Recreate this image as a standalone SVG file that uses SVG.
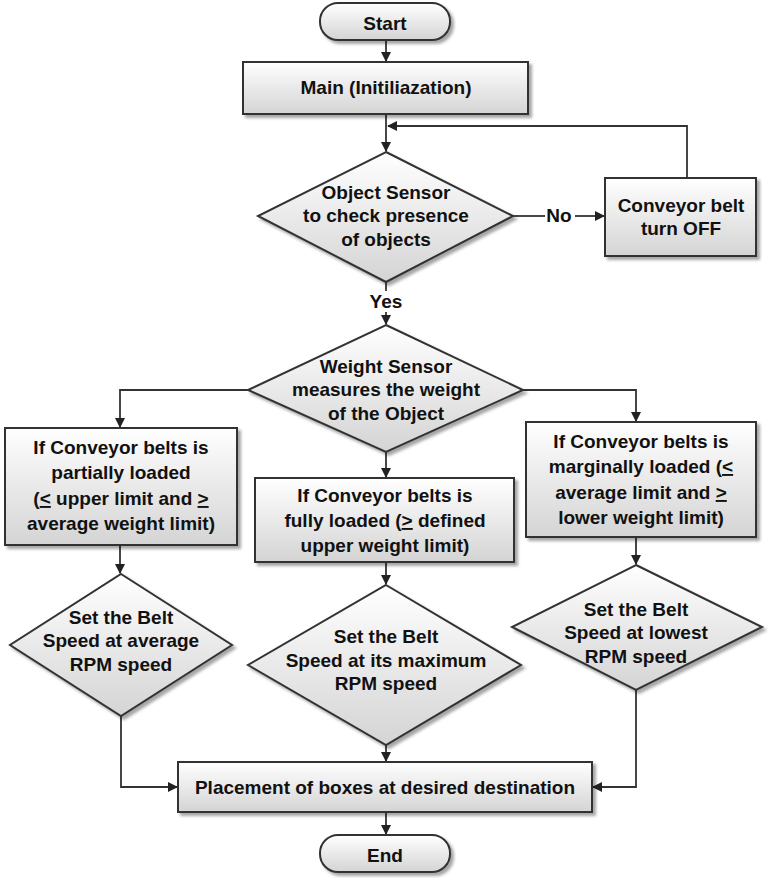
<svg xmlns="http://www.w3.org/2000/svg" width="777" height="878" viewBox="0 0 777 878">
<defs>
<linearGradient id="g" x1="0" y1="0" x2="0" y2="1"><stop offset="0" stop-color="#ffffff"/><stop offset="1" stop-color="#d4d4d4"/></linearGradient>
<filter id="sh" x="-10%" y="-10%" width="130%" height="130%"><feDropShadow dx="3" dy="3" stdDeviation="1.5" flood-color="#000" flood-opacity="0.35"/></filter>
<marker id="a" markerWidth="10" markerHeight="10" refX="9" refY="5" orient="auto" markerUnits="userSpaceOnUse"><path d="M0,0 L10,5 L0,10 z" fill="#222"/></marker>
<style>
.s{fill:url(#g);stroke:#333;stroke-width:2;filter:url(#sh)}
.t{font-family:"Liberation Sans",Arial,sans-serif;font-weight:bold;font-size:19px;fill:#111;text-anchor:middle}
.c{fill:none;stroke:#333;stroke-width:1.8;marker-end:url(#a)}
.l{fill:none;stroke:#333;stroke-width:1.8}
</style>
</defs>
<g id="connectors">
<path class="c" d="M386,40 V61"/>
<path class="c" d="M386,114 V151"/>
<path class="c" d="M687,178 V126 H388"/>
<path class="l" d="M513,216 H545"/>
<path class="c" d="M575,216 H604"/>
<path class="l" d="M386,282 V291"/>
<path class="c" d="M386,312 V324"/>
<path class="c" d="M248,390 H120 V427"/>
<path class="c" d="M523,390 H636 V421"/>
<path class="c" d="M386,452 V477"/>
<path class="c" d="M120,545 V573"/>
<path class="c" d="M386,562 V584"/>
<path class="c" d="M636,537 V564"/>
<path class="c" d="M121,716 V787 H177"/>
<path class="c" d="M636,690 V787 H593"/>
<path class="c" d="M386,745 V761"/>
<path class="c" d="M386,812 V834"/>
<text class="t" x="559" y="222">No</text>
<text class="t" x="386" y="308">Yes</text>
</g>
<g id="start"><rect class="s" x="320" y="3" width="130" height="37" rx="18"/><text class="t" x="385" y="30" font-size="23">Start</text></g>
<g id="main"><rect class="s" x="243" y="62" width="285" height="52"/><text class="t" x="386" y="94">Main (Initiliazation)</text></g>
<g id="d1"><polygon class="s" points="386,152 513,216 386,282 258,216"/><text class="t" x="386" y="199">Object Sensor</text><text class="t" x="386" y="222">to check presence</text><text class="t" x="386" y="246">of objects</text></g>
<g id="off"><rect class="s" x="605" y="178" width="151" height="78"/><text class="t" x="681" y="212">Conveyor belt</text><text class="t" x="681" y="235">turn OFF</text></g>
<g id="d2"><polygon class="s" points="386,325 523,390 386,452 248,390"/><text class="t" x="386" y="373">Weight Sensor</text><text class="t" x="386" y="396">measures the weight</text><text class="t" x="386" y="420">of the Object</text></g>
<g id="partial"><rect class="s" x="5" y="428" width="232" height="117"/><text class="t" x="121" y="454">If Conveyor belts is</text><text class="t" x="121" y="479">partially loaded</text><text class="t" x="121" y="505">(<tspan text-decoration="underline">&lt;</tspan> upper limit and <tspan text-decoration="underline">&gt;</tspan></text><text class="t" x="121" y="530">average weight limit)</text></g>
<g id="full"><rect class="s" x="255" y="478" width="259" height="84"/><text class="t" x="385" y="502">If Conveyor belts is</text><text class="t" x="385" y="527">fully loaded (<tspan text-decoration="underline">&gt;</tspan> defined</text><text class="t" x="385" y="552">upper weight limit)</text></g>
<g id="marginal"><rect class="s" x="526" y="422" width="230" height="115"/><text class="t" x="641" y="448">If Conveyor belts is</text><text class="t" x="641" y="473">marginally loaded (<tspan text-decoration="underline">&lt;</tspan></text><text class="t" x="641" y="499">average limit and <tspan text-decoration="underline">&gt;</tspan></text><text class="t" x="641" y="524">lower weight limit)</text></g>
<g id="d3"><polygon class="s" points="121,574 232,645 121,716 10,645"/><text class="t" x="121" y="624">Set the Belt</text><text class="t" x="121" y="647">Speed at average</text><text class="t" x="121" y="671">RPM speed</text></g>
<g id="d4"><polygon class="s" points="386,585 521,665 386,745 248,665"/><text class="t" x="386" y="643">Set the Belt</text><text class="t" x="386" y="667">Speed at its maximum</text><text class="t" x="386" y="690">RPM speed</text></g>
<g id="d5"><polygon class="s" points="636,565 762,627 636,690 512,627"/><text class="t" x="636" y="616">Set the Belt</text><text class="t" x="636" y="639">Speed at lowest</text><text class="t" x="636" y="663">RPM speed</text></g>
<g id="place"><rect class="s" x="178" y="762" width="414" height="50"/><text class="t" x="385" y="794">Placement of boxes at desired destination</text></g>
<g id="end"><rect class="s" x="320" y="835" width="130" height="37" rx="18"/><text class="t" x="385" y="862" font-size="23">End</text></g>
</svg>
